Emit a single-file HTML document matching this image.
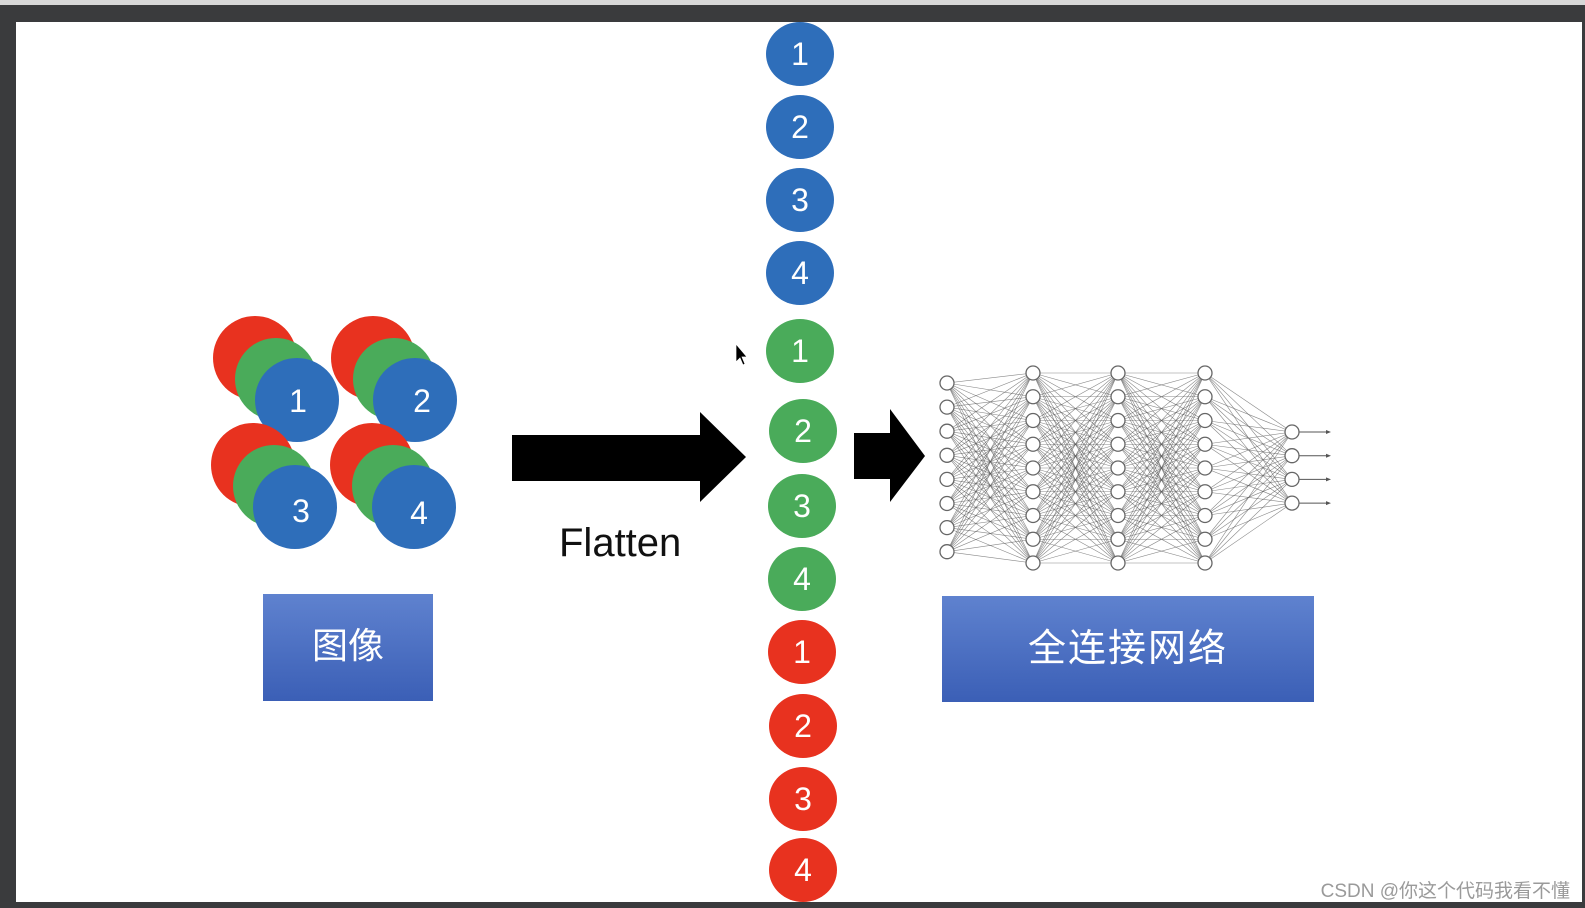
<!DOCTYPE html>
<html><head><meta charset="utf-8"><style>
html,body{margin:0;padding:0;background:#3a3b3d;}
svg{display:block}
</style></head><body>
<svg id="s" width="1585" height="908" xmlns="http://www.w3.org/2000/svg">
<defs>
<linearGradient id="g" x1="0" y1="0" x2="0" y2="1">
<stop offset="0" stop-color="#5f82cf"/><stop offset="1" stop-color="#3b5fb6"/>
</linearGradient>
</defs>
<rect x="0" y="0" width="1585" height="5" fill="#d8d8d8"/>
<rect x="0" y="5" width="1585" height="903" fill="#3a3b3d"/>
<rect x="16" y="22" width="1566" height="880" fill="#fff"/>
<g font-family="Liberation Sans, sans-serif" fill="#fff" font-size="32" text-anchor="middle">
<g id="grp">
<circle cx="255" cy="358" r="42" fill="#e8321f"/>
<circle cx="276" cy="379" r="41" fill="#4aab5a"/>
<circle cx="297" cy="400" r="42" fill="#2e6eba"/>
</g>
<use href="#grp" x="118" y="0"/>
<use href="#grp" x="-2" y="107"/>
<use href="#grp" x="117" y="107"/>
<text x="298" y="412">1</text>
<text x="422" y="412">2</text>
<text x="301" y="522">3</text>
<text x="419" y="524">4</text>
<g id="col"></g>
</g>
<polygon points="512,435 700,435 700,412 746,457 700,502 700,481 512,481" fill="#000"/>
<polygon points="854,433 890,433 890,409 925,456 890,502 890,479 854,479" fill="#000"/>
<polygon points="736,344 736,362 740,358 743,365 745,364 742,357 747,357" fill="#000" stroke="#fff" stroke-width="0.7"/>
<text x="559" y="556" font-family="Liberation Sans, sans-serif" font-size="40" fill="#111">Flatten</text>
<rect x="263" y="594" width="170" height="107" fill="url(#g)"/>
<text x="348" y="658" font-family="Liberation Sans, 'Noto Sans CJK SC', sans-serif" font-size="36" fill="#fff" text-anchor="middle">图像</text>
<rect x="942" y="596" width="372" height="106" fill="url(#g)"/>
<text x="1128" y="661" font-family="Liberation Sans, 'Noto Sans CJK SC', sans-serif" font-size="38" fill="#fff" text-anchor="middle" letter-spacing="2">全连接网络</text>
<g id="nn"></g>
<text x="1570" y="897" font-family="Liberation Sans, 'Noto Sans CJK SC', sans-serif" font-size="19" fill="#9a9a9a" text-anchor="end">CSDN @你这个代码我看不懂</text>
</svg>
<script>
var NS="http://www.w3.org/2000/svg";
function el(p,t,a,txt){var e=document.createElementNS(NS,t);for(var k in a)e.setAttribute(k,a[k]);if(txt)e.textContent=txt;p.appendChild(e);return e;}
var col=document.getElementById("col");
var items=[[800,54,"#2e6eba","1"],[800,127,"#2e6eba","2"],[800,200,"#2e6eba","3"],[800,273,"#2e6eba","4"],
[800,351,"#4aab5a","1"],[803,431,"#4aab5a","2"],[802,506,"#4aab5a","3"],[802,579,"#4aab5a","4"],
[802,652,"#e8321f","1"],[803,726,"#e8321f","2"],[803,799,"#e8321f","3"],[803,870,"#e8321f","4"]];
items.forEach(function(c){el(col,"ellipse",{cx:c[0],cy:c[1],rx:34,ry:32,fill:c[2]});el(col,"text",{x:c[0],y:c[1]+11},c[3]);});
var nn=document.getElementById("nn");
var layers=[[947,8,383,24.1],[1033,9,373,23.75],[1118,9,373,23.75],[1205,9,373,23.75],[1292,4,432,23.7]];
var pos=layers.map(function(l){var a=[];for(var i=0;i<l[1];i++)a.push([l[0],l[2]+i*l[3]]);return a;});
for(var L=0;L<pos.length-1;L++){pos[L].forEach(function(p){pos[L+1].forEach(function(q){el(nn,"line",{x1:p[0],y1:p[1],x2:q[0],y2:q[1],stroke:"#555","stroke-width":0.6,"stroke-opacity":0.7});});});}
pos[4].forEach(function(p){el(nn,"line",{x1:p[0],y1:p[1],x2:1328,y2:p[1],stroke:"#555","stroke-width":1});el(nn,"polygon",{points:"1326,"+(p[1]-2)+" 1331,"+p[1]+" 1326,"+(p[1]+2),fill:"#555"});});
pos.forEach(function(l){l.forEach(function(p){el(nn,"circle",{cx:p[0],cy:p[1],r:7,fill:"#fff",stroke:"#666","stroke-width":1.3});});});
</script>
</body></html>
